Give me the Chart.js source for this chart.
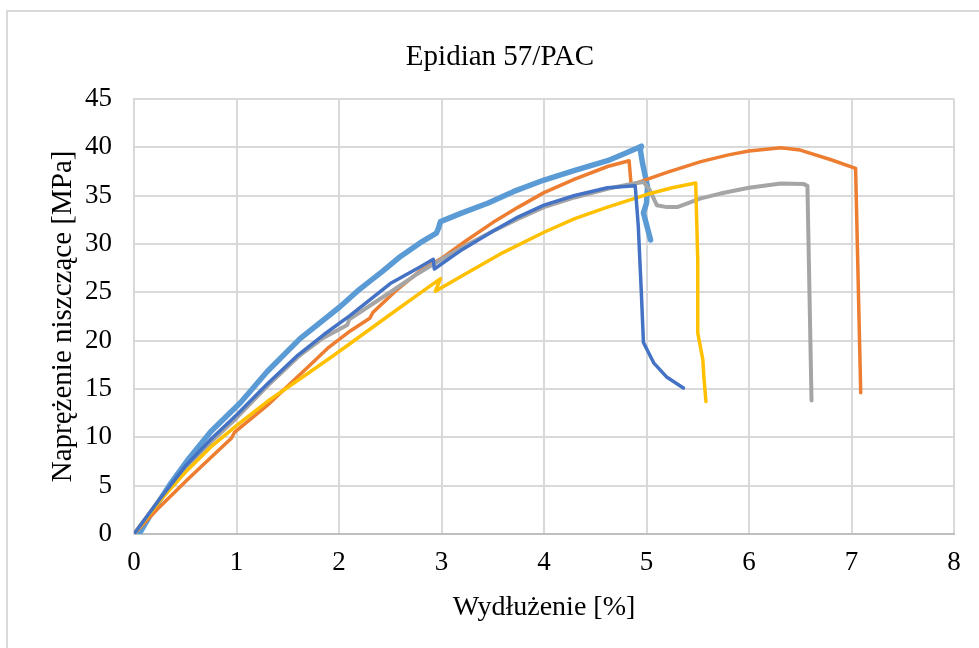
<!DOCTYPE html>
<html>
<head>
<meta charset="utf-8">
<script src="https://cdn.jsdelivr.net/npm/chart.js@4"></script>
<style>
  body { margin: 0; background: #fff; }
  #wrap { position: relative; width: 979px; height: 648px; overflow: hidden; }
  #frame { position: absolute; left: 6px; top: 10px; width: 1000px; height: 700px;
           border: 2px solid #d9d9d9; box-sizing: border-box; pointer-events: none; }
</style>
</head>
<body>
<div id="wrap">
  <canvas id="stressChart" width="979" height="648"></canvas>
  <div id="frame"></div>
</div>
<script>
// strain [%] / stress [MPa] for each sample
const lightBlueStrain = [0.05, 0.19, 0.35, 0.52, 0.75, 1.04, 1.3, 1.62, 2.01, 2.2, 2.43, 2.6, 2.79, 2.95, 2.97, 2.99, 3.2, 3.45, 3.7, 4.0, 4.3, 4.62, 4.8, 4.95, 4.94, 4.96, 5.01, 5.0, 4.97, 5.0, 5.04];
const lightBlueStress = [0, 2.5, 5.1, 7.6, 10.6, 13.6, 16.8, 20.2, 23.5, 25.3, 27.2, 28.7, 30.1, 31.1, 31.6, 32.3, 33.2, 34.2, 35.4, 36.6, 37.6, 38.6, 39.4, 40.1, 39.7, 38.4, 35.9, 34.2, 33.2, 32.0, 30.4];

const orangeStrain = [0, 0.25, 0.52, 0.75, 0.95, 0.98, 1.3, 1.7, 1.9, 2.11, 2.3, 2.33, 2.55, 2.79, 3.0, 3.25, 3.5, 3.75, 4.0, 4.3, 4.62, 4.83, 4.85, 5.2, 5.53, 5.8, 6.0, 6.31, 6.5, 6.8, 7.04, 7.09];
const orangeStress = [0, 2.8, 5.6, 7.9, 9.9, 10.5, 13.3, 17.3, 19.3, 21.0, 22.3, 22.9, 25.1, 27.2, 28.5, 30.4, 32.2, 33.8, 35.3, 36.7, 38.0, 38.6, 36.1, 37.4, 38.5, 39.2, 39.6, 39.95, 39.7, 38.7, 37.8, 14.6];

const grayStrain = [0, 0.25, 0.5, 0.75, 1.0, 1.3, 1.62, 1.85, 2.08, 2.1, 2.3, 2.5, 2.75, 3.0, 3.25, 3.5, 3.75, 4.0, 4.3, 4.62, 4.85, 4.97, 5.03, 5.1, 5.2, 5.3, 5.53, 5.72, 6.0, 6.31, 6.53, 6.57, 6.61];
const grayStress = [0, 3.6, 6.8, 9.5, 12.0, 15.3, 18.5, 20.3, 21.6, 22.2, 23.6, 25.0, 26.8, 28.4, 29.9, 31.3, 32.6, 33.8, 34.8, 35.7, 36.2, 36.4, 35.6, 34.0, 33.8, 33.8, 34.7, 35.2, 35.8, 36.25, 36.2, 36.0, 13.8];

const yellowStrain = [0, 0.25, 0.52, 0.75, 1.0, 1.3, 1.6, 1.94, 2.2, 2.5, 2.75, 2.99, 2.94, 3.3, 3.6, 4.0, 4.3, 4.62, 5.0, 5.25, 5.48, 5.5, 5.5, 5.55, 5.56, 5.58];
const yellowStress = [0, 3.4, 6.6, 9.0, 11.2, 13.7, 15.9, 18.4, 20.4, 22.7, 24.6, 26.4, 25.1, 27.3, 29.1, 31.2, 32.6, 33.8, 35.1, 35.8, 36.3, 28.3, 20.8, 18.0, 16.2, 13.7];

const darkBlueStrain = [0, 0.25, 0.5, 0.75, 1.0, 1.3, 1.6, 1.85, 2.11, 2.5, 2.79, 2.92, 2.93, 3.2, 3.5, 3.75, 4.0, 4.3, 4.62, 4.89, 4.92, 4.95, 4.97, 5.07, 5.2, 5.36];
const darkBlueStress = [0, 3.6, 7.0, 9.8, 12.3, 15.5, 18.5, 20.6, 22.6, 25.9, 27.6, 28.4, 27.4, 29.4, 31.3, 32.8, 34.0, 35.0, 35.8, 36.0, 31.8, 24.9, 19.8, 17.7, 16.2, 15.1];

const xTicks = [0, 1, 2, 3, 4, 5, 6, 7, 8];
const yTicks = [0, 5, 10, 15, 20, 25, 30, 35, 40, 45];

function toPoints(xs, ys) {
  return xs.map((x, i) => ({ x: x, y: ys[i] }));
}

function series(xs, ys, color, width) {
  return {
    data: toPoints(xs, ys),
    borderColor: color,
    backgroundColor: color,
    borderWidth: width,
    showLine: true,
    pointRadius: 0,
    tension: 0,
    borderJoinStyle: "round",
    borderCapStyle: "round",
  };
}

const serif = "'Liberation Serif', 'Times New Roman', serif";

const config = {
  type: "scatter",
  data: {
    datasets: [
      series(lightBlueStrain, lightBlueStress, "#5B9BD5", 5.5),
      series(orangeStrain, orangeStress, "#ED7D31", 3.5),
      series(grayStrain, grayStress, "#A5A5A5", 4),
      series(yellowStrain, yellowStress, "#FFC000", 3.5),
      series(darkBlueStrain, darkBlueStress, "#4472C4", 3.5),
    ].reverse(),
  },
  options: {
    responsive: false,
    animation: false,
    layout: { padding: { left: 46, right: 25, top: 21, bottom: 0 } },
    plugins: {
      legend: { display: false },
      tooltip: { enabled: false },
      title: {
        display: true,
        text: "Epidian 57/PAC",
        color: "#000",
        font: { family: serif, size: 29, weight: "normal" },
        padding: { top: 19, bottom: 24 },
      },
    },
    scales: {
      x: {
        type: "linear",
        min: 0,
        max: 8,
        afterBuildTicks: (scale) => { scale.ticks = xTicks.map((v) => ({ value: v })); },
        afterFit: (scale) => { scale.height = 114; },
        grid: { color: "#d9d9d9", lineWidth: 2, drawTicks: false },
        border: { color: "#bfbfbf", width: 2 },
        ticks: { color: "#000", padding: 13, font: { family: serif, size: 27 } },
        title: {
          display: true,
          text: "Wydłużenie [%]",
          color: "#000",
          font: { family: serif, size: 28 },
          padding: { top: 0, bottom: 24 },
        },
      },
      y: {
        type: "linear",
        min: 0,
        max: 45,
        afterBuildTicks: (scale) => { scale.ticks = yTicks.map((v) => ({ value: v })); },
        afterFit: (scale) => { scale.width = 88; },
        grid: { color: "#d9d9d9", lineWidth: 2, drawTicks: false },
        border: { color: "#d9d9d9", width: 2 },
        ticks: { color: "#000", padding: 22, font: { family: serif, size: 27 } },
        title: {
          display: true,
          text: "Naprężenie niszczące [MPa]",
          color: "#000",
          font: { family: serif, size: 29 },
          padding: { top: 0, bottom: 0 },
        },
      },
    },
  },
};

const ctx = document.getElementById("stressChart");
const stressChart = new Chart(ctx, config);
</script>
</body>
</html>
